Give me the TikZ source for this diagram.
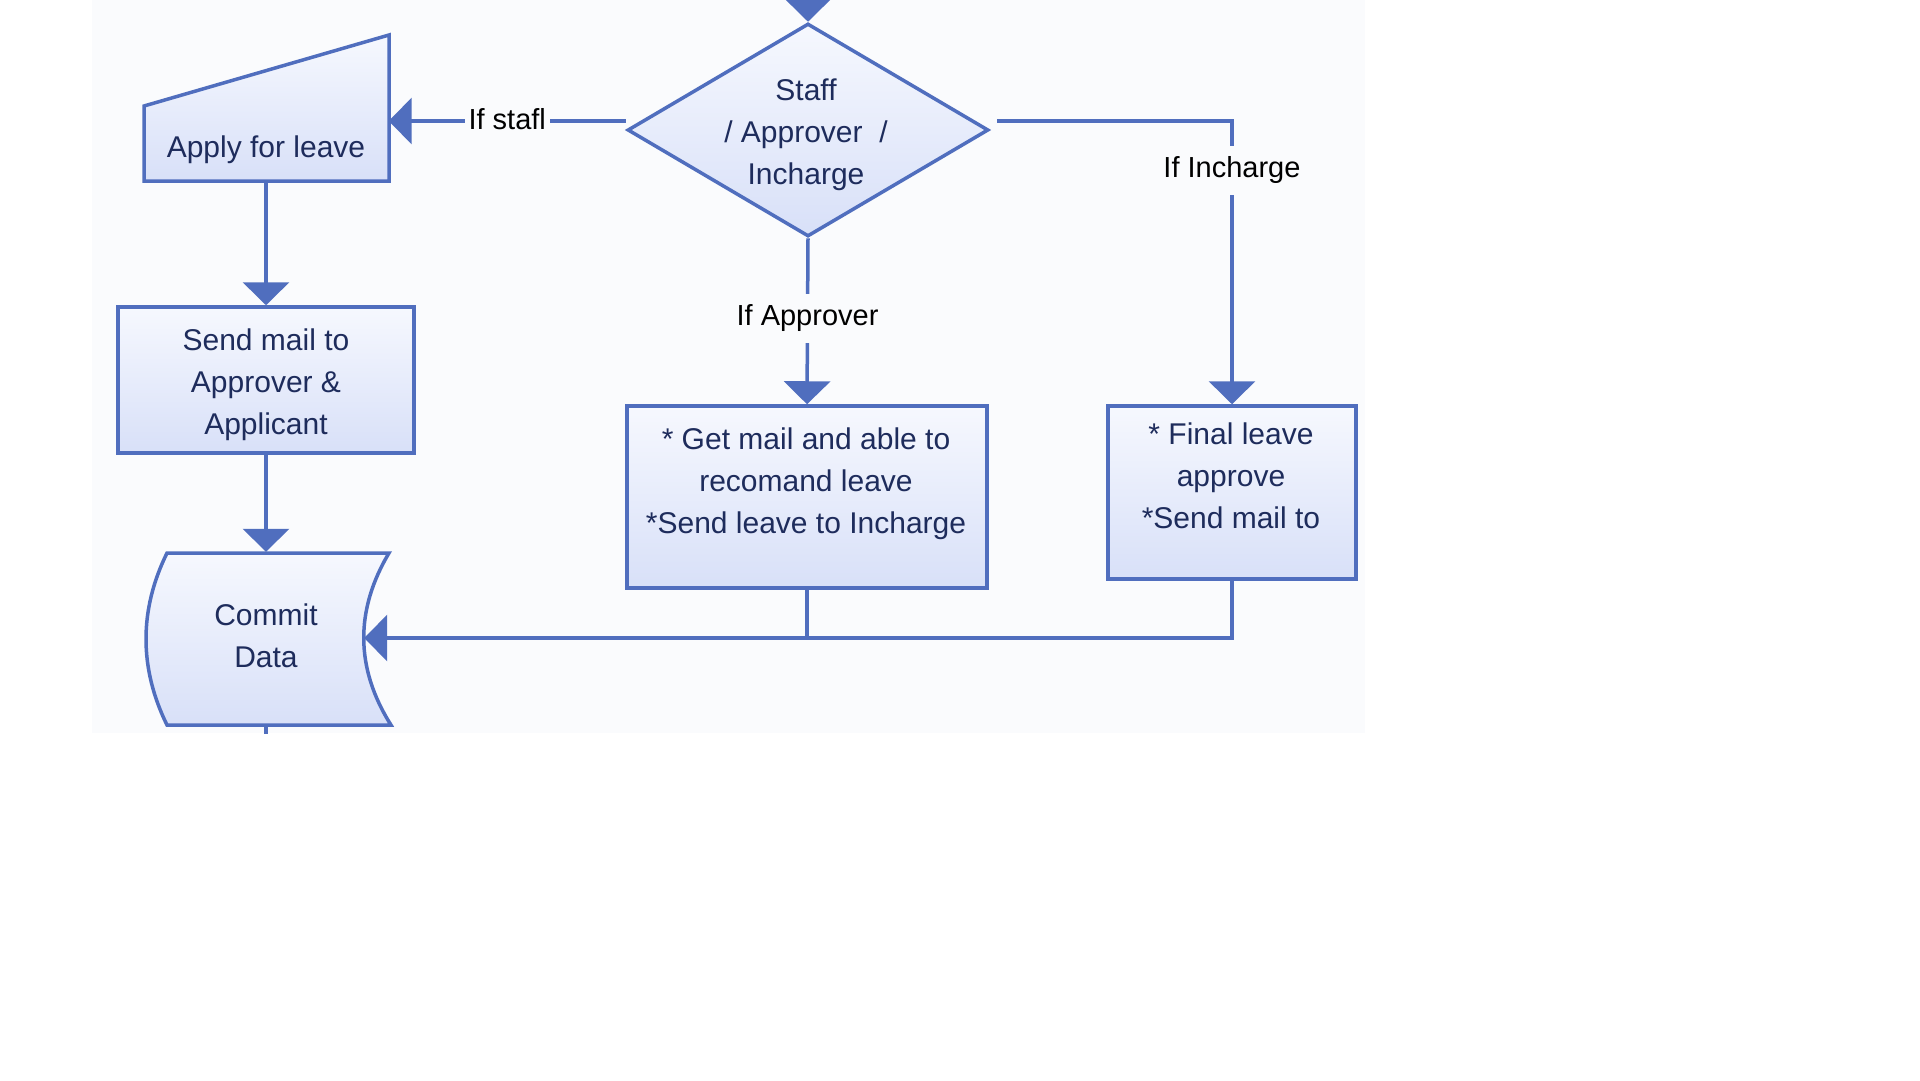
\documentclass[tikz,border=0pt]{standalone}
\usepackage{fontspec}
\setmainfont{Liberation Sans}
\usetikzlibrary{arrows.meta,shapes.geometric}
\definecolor{lnc}{RGB}{80,110,190}
\definecolor{ftop}{RGB}{246,248,254}
\definecolor{fbot}{RGB}{216,224,248}
\definecolor{txc}{RGB}{30,44,92}
\definecolor{bg}{RGB}{250,251,253}
\tikzset{
  flow/.style={draw=lnc, line width=3.5pt},
  shapefill/.style={draw=lnc, line width=3.5pt, top color=ftop, bottom color=fbot},
  box/.style={rectangle, shapefill, inner sep=0pt},
  txt/.style={text=txc, font=\fontsize{30}{42}\selectfont, align=center, inner sep=0pt},
  lab/.style={text=black, font=\fontsize{29}{35}\selectfont, fill=bg, inner xsep=4pt, inner ysep=11pt},
  arr/.style={-{Triangle[length=23pt,width=46pt]}},
}
\begin{document}
\begin{tikzpicture}[x=1pt,y=-1pt]
\useasboundingbox (0,0) rectangle (1920,1080);
\fill[white] (0,0) rectangle (1920,1080);
\fill[bg] (92,0) rectangle (1365,733);

% Apply for leave (manual input shape)
\path[shapefill] (144,181) -- (389,181) -- (389,35) -- (144,106) -- cycle;
\node[minimum width=245pt, minimum height=146pt, inner sep=0pt] (apply) at (266,108) {};
\node[txt] (applytxt) at (266,150) {Apply for leave};

% Send mail
\node[box, minimum width=296pt, minimum height=146pt] (send) at (266,380) {};
\node[txt] (sendtxt) at (266,385) {Send mail to\\Approver \&\\Applicant};

% Commit Data (stored data shape)
\path[shapefill] (167,553) -- (389,553) .. controls (355,610) and (355,668) .. (391,725)
   -- (167,725) .. controls (139,668) and (139,610) .. cycle;
\node[minimum width=196pt, minimum height=172pt, inner sep=0pt] (commit) at (266,638) {};
\node[txt] (committxt) at (266,636) {Commit\\Data};

% Decision
\node[diamond, shapefill, minimum width=361pt, minimum height=213pt, inner sep=0pt] (dec) at (808,130) {};
\node[txt] (dectxt) at (806,135) {Staff\\/ Approver\ \ /\\Incharge};

% Approver box
\node[box, minimum width=360pt, minimum height=182pt] (mbox) at (807,497) {};
\node[txt] (mtxt) at (806,484) {* Get mail and able to\\recomand leave\\*Send leave to Incharge};

% Incharge box
\node[box, minimum width=248pt, minimum height=173pt] (rbox) at (1232,492.5) {};
\node[txt] (rtxt) at (1231,476) {* Final leave\\approve\\*Send mail to};

% connectors
\coordinate (entry) at (808,-20);
\draw[flow,arr] (entry) -- (dec.north);
\draw[flow,arr] ([yshift=9pt]dec.west) -- node[lab,yshift=2pt]{If stafl} ([yshift=-13pt]apply.east);
\draw[flow,arr] ([xshift=7pt,yshift=9pt]dec.east) -| node[lab,pos=0.587]{If Incharge} (rbox.north);
\draw[flow,arr] (dec.south) -- node[lab,pos=0.482]{If Approver} (mbox.north);
\draw[flow,arr] (apply.south) -- (send.north);
\draw[flow,arr] (send.south) -- (commit.north);
\draw[flow] (mbox.south) -- (mbox.south |- commit.east);
\draw[flow,arr] (rbox.south) |- (commit.east);
\coordinate (cexit) at (266,734);
\draw[flow] (commit.south) -- (cexit);
\end{tikzpicture}
\end{document}
